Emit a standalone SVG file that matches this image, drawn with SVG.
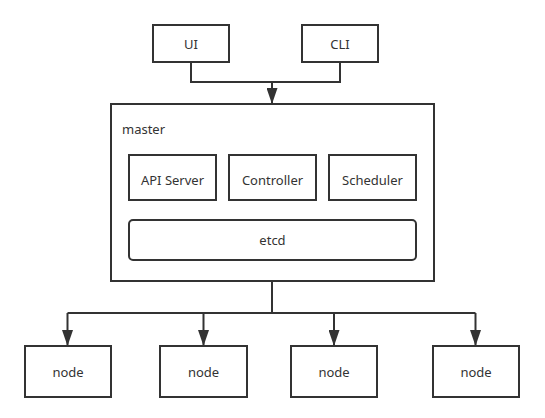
<svg xmlns="http://www.w3.org/2000/svg" width="545" height="418" viewBox="0 0 545 418">
<style>
.box{fill:#fff;stroke:#333;stroke-width:2}
.t{font-family:"Noto Sans","Open Sans","DejaVu Sans",sans-serif;font-size:13px;fill:#333;text-anchor:middle;dominant-baseline:central}
.c{fill:none;stroke:#333;stroke-width:2}
</style>
<defs>
<marker id="ah" markerUnits="userSpaceOnUse" markerWidth="16" markerHeight="11" refX="16" refY="5.5" orient="auto" viewBox="0 0 16 11">
<path d="M0,0 L16,5.5 L0,11 Z" fill="#333"/>
</marker>
</defs>
<rect width="545" height="418" fill="#fff"/>
<g id="connectors">
<path class="c" d="M191,62 V82 H340 V62"/>
<path class="c" d="M272,82 V104" marker-end="url(#ah)"/>
<path class="c" d="M272,281 V313"/>
<path class="c" d="M67.5,313 H475.5"/>
<path class="c" d="M67.5,313 V346" marker-end="url(#ah)"/>
<path class="c" d="M203.5,313 V346" marker-end="url(#ah)"/>
<path class="c" d="M334,313 V346" marker-end="url(#ah)"/>
<path class="c" d="M475.5,313 V346" marker-end="url(#ah)"/>
</g>
<g id="ui"><rect class="box" x="153" y="25" width="76" height="37"/><text class="t" x="191" y="43.5">UI</text></g>
<g id="cli"><rect class="box" x="302" y="25" width="76" height="37"/><text class="t" x="340" y="43.5">CLI</text></g>
<g id="master">
<rect class="box" x="111" y="104" width="323" height="177"/>
<text class="t" x="122" y="129" style="text-anchor:start">master</text>
</g>
<g id="api"><rect class="box" x="129" y="155" width="87" height="45"/><text class="t" x="172.5" y="179.5">API Server</text></g>
<g id="controller"><rect class="box" x="229" y="155" width="87" height="45"/><text class="t" x="272.5" y="179.5">Controller</text></g>
<g id="scheduler"><rect class="box" x="329" y="155" width="87" height="45"/><text class="t" x="372.5" y="179.5">Scheduler</text></g>
<g id="etcd"><rect class="box" x="129" y="220" width="287" height="40" rx="4"/><text class="t" x="272.5" y="240">etcd</text></g>
<g id="node1"><rect class="box" x="25" y="346" width="86" height="51"/><text class="t" x="68" y="371.5">node</text></g>
<g id="node2"><rect class="box" x="160" y="346" width="87" height="51"/><text class="t" x="203.5" y="371.5">node</text></g>
<g id="node3"><rect class="box" x="291" y="346" width="86" height="51"/><text class="t" x="334" y="371.5">node</text></g>
<g id="node4"><rect class="box" x="433" y="346" width="86" height="51"/><text class="t" x="476" y="371.5">node</text></g>
</svg>
